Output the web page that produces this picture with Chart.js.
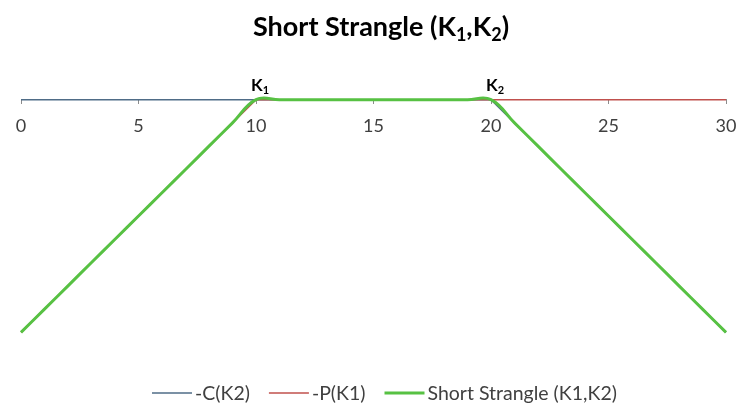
<!DOCTYPE html>
<html>
<head>
<meta charset="utf-8">
<script src="https://cdn.jsdelivr.net/npm/chart.js@4/dist/chart.umd.min.js"></script>
<style>
  html, body { margin: 0; padding: 0; background: #ffffff; }
  #wrap { width: 740px; height: 405px; position: relative; }
</style>
</head>
<body>
<div id="wrap"><canvas id="c" width="740" height="405"></canvas></div>
<script>
// ---- data ----
const stockPrices = [0,1,2,3,4,5,6,7,8,9,10,11,12,13,14,15,16,17,18,19,20,21,22,23,24,25,26,27,28,29,30];
const shortCallK2 = [0,0,0,0,0,0,0,0,0,0,0,0,0,0,0,0,0,0,0,0,0,-1,-2,-3,-4,-5,-6,-7,-8,-9,-10];
const shortPutK1  = [-10,-9,-8,-7,-6,-5,-4,-3,-2,-1,0,0,0,0,0,0,0,0,0,0,0,0,0,0,0,0,0,0,0,0,0];
const shortStrangle = [-10,-9,-8,-7,-6,-5,-4,-3,-2,-1,0,0,0,0,0,0,0,0,0,0,0,-1,-2,-3,-4,-5,-6,-7,-8,-9,-10];
const seriesNames = ['-C(K2)', '-P(K1)', 'Short Strangle (K1,K2)'];
const xTickValues = [0, 5, 10, 15, 20, 25, 30];
const strikeLabels = [{x: 10, base: 'K', sub: '1'}, {x: 20, base: 'K', sub: '2'}];
const titleParts = [{t: 'Short Strangle (K'}, {t: '1', sub: true}, {t: ',K'}, {t: '2', sub: true}, {t: ')'}];

const FONT = 'Lato, "Open Sans", "Noto Sans", sans-serif';
const textColor = '#404040';

function pts(arr) { return stockPrices.map((x, i) => ({x: x, y: arr[i]})); }

function drawRich(ctx, parts, left, baseline, size, bold) {
  let x = left;
  ctx.textAlign = 'left';
  ctx.textBaseline = 'alphabetic';
  parts.forEach(p => {
    ctx.font = (bold ? 'bold ' : '') + (p.sub ? Math.round(size * 0.65) : size) + 'px ' + FONT;
    ctx.fillText(p.t, x, baseline + (p.sub ? size * 0.2 : 0));
    x += ctx.measureText(p.t).width;
  });
  return x - left;
}
function richWidth(ctx, parts, size, bold) {
  let total = 0;
  parts.forEach(p => {
    ctx.font = (bold ? 'bold ' : '') + (p.sub ? Math.round(size * 0.65) : size) + 'px ' + FONT;
    total += ctx.measureText(p.t).width;
  });
  return total;
}

const decor = {
  id: 'decor',
  afterDraw(chart) {
    const ctx = chart.ctx;
    const xs = chart.scales.x, ys = chart.scales.y;
    ctx.save();
    // title
    ctx.fillStyle = '#000000';
    const tw = richWidth(ctx, titleParts, 27, true);
    drawRich(ctx, titleParts, 381 - tw / 2, 36, 27, true);
    // strike labels
    strikeLabels.forEach(s => {
      const px = xs.getPixelForValue(s.x);
      const py = ys.getPixelForValue(0);
      drawRich(ctx, [{t: s.base}, {t: s.sub, sub: true}], px - 5, py - 9, 17, true);
    });
    // legend
    const ds = chart.data.datasets;
    const lineLen = 40, gapText = 3, gapItem = 19;
    let x = 152;
    const y = 393;
    ds.forEach((d) => {
      ctx.strokeStyle = d.borderColor;
      ctx.lineWidth = d.borderWidth;
      ctx.beginPath();
      ctx.moveTo(x, y);
      ctx.lineTo(x + lineLen, y);
      ctx.stroke();
      ctx.fillStyle = textColor;
      ctx.textAlign = 'left';
      ctx.textBaseline = 'middle';
      ctx.font = '19.5px ' + FONT;
      ctx.fillText(d.label, x + lineLen + gapText, y + 1);
      x += lineLen + gapText + ctx.measureText(d.label).width + gapItem;
    });
    ctx.restore();
  }
};

new Chart(document.getElementById('c'), {
  type: 'line',
  data: {
    datasets: [
      { label: seriesNames[0], data: pts(shortCallK2), borderColor: '#4f6c87', borderWidth: 1.5, pointRadius: 0, tension: 0, order: 2 },
      { label: seriesNames[1], data: pts(shortPutK1), borderColor: '#c0504d', borderWidth: 1.5, pointRadius: 0, tension: 0, order: 1 },
      { label: seriesNames[2], data: pts(shortStrangle), borderColor: '#57c143', borderWidth: 3, pointRadius: 0, tension: 0.4, order: 0 }
    ]
  },
  options: {
    responsive: false,
    animation: false,
    clip: false,
    layout: { autoPadding: false, padding: { left: 21, right: 14, top: 88, bottom: 61 } },
    plugins: { legend: { display: false }, title: { display: false }, tooltip: { enabled: false } },
    elements: { line: { capBezierPoints: false } },
    scales: {
      x: {
        type: 'linear',
        position: { y: 0 },
        min: 0, max: 30,
        afterBuildTicks: (scale) => { scale.ticks = xTickValues.map(v => ({value: v})); },
        afterFit: (scale) => { scale.paddingLeft = 0; scale.paddingRight = 0; },
        grid: { display: true, drawOnChartArea: false, drawTicks: true, tickLength: 4, color: '#8c8c8c' },
        border: { display: true, color: '#8c8c8c' },
        ticks: { padding: 12, color: textColor, font: { family: FONT, size: 18 }, maxRotation: 0 }
      },
      y: {
        type: 'linear',
        display: false,
        min: -10.5, max: 0.5
      }
    }
  },
  plugins: [decor]
});
</script>
</body>
</html>
